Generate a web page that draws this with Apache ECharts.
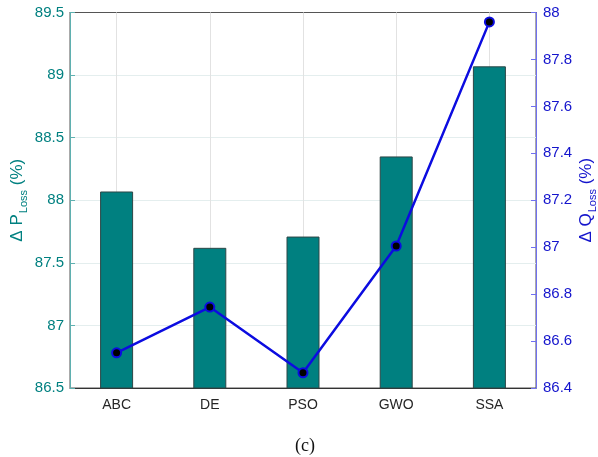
<!DOCTYPE html>
<html>
<head>
<meta charset="utf-8">
<script src="https://cdn.jsdelivr.net/npm/echarts@6/dist/echarts.min.js"></script>
<style>
  html, body { margin: 0; padding: 0; background: #fff; }
  #chart { width: 598px; height: 457px; }
</style>
</head>
<body>
<div id="chart"></div>
<script>
// Algorithms compared
const categories = ['ABC', 'DE', 'PSO', 'GWO', 'SSA'];
// Active power loss reduction (%), left axis, bars
const pLoss = [88.07, 87.62, 87.71, 88.35, 89.07];
// Reactive power loss reduction (%), right axis, line
const qLoss = [86.55, 86.745, 86.465, 87.005, 87.96];

const teal = '#008080';
const blue = '#0c0ce0';
const blueText = '#1414cc';
const sans = 'Liberation Sans, Arial, sans-serif';

const chart = echarts.init(document.getElementById('chart'), null, { renderer: 'canvas' });

chart.setOption({
  animation: false,
  backgroundColor: '#ffffff',
  grid: {
    left: 70, right: 62, top: 12.5, bottom: 69,
    outerBoundsMode: 'none',
    containLabel: false,
    show: true, borderColor: '#555555', borderWidth: 1, backgroundColor: 'transparent'
  },
  graphic: [{
    type: 'text',
    x: 305,
    y: 446,
    style: {
      text: '(c)', font: '18px "Liberation Serif", "Times New Roman", serif', fill: '#111',
      align: 'center', verticalAlign: 'middle'
    }
  }],
  xAxis: [{
    type: 'category',
    data: categories,
    boundaryGap: true,
    axisLine: { lineStyle: { color: '#333333', width: 1 } },
    axisTick: { show: true, alignWithLabel: true, inside: true, length: 5, lineStyle: { color: '#333' } },
    axisLabel: { color: '#262626', fontSize: 14, margin: 10, fontFamily: sans },
    splitLine: { show: false }
  }, {
    type: 'category',
    data: categories,
    position: 'top',
    boundaryGap: true,
    axisLine: { lineStyle: { color: '#555555', width: 1 } },
    axisTick: { show: true, alignWithLabel: true, inside: true, length: 5, lineStyle: { color: '#777' } },
    axisLabel: { show: false },
    splitLine: { show: false }
  }],
  yAxis: [{
    type: 'value',
    position: 'left',
    min: 86.5, max: 89.5, interval: 0.5,
    axisLine: { show: true, lineStyle: { color: '#5fb0b0', width: 1 } },
    axisTick: { show: true, inside: true, length: 5, lineStyle: { color: '#5fb0b0' } },
    axisLabel: { color: teal, fontSize: 15, margin: 6, fontFamily: sans },
    splitLine: { show: true, lineStyle: { color: '#e4eeee', width: 1 } },
    name: '{a|Δ P}{b|Loss}{a| (%)}',
    nameLocation: 'middle',
    nameMoveOverlap: false,
    nameGap: 41,
    nameTextStyle: {
      color: teal,
      rich: {
        a: { fontSize: 17, color: teal, fontFamily: sans },
        b: { fontSize: 11, color: teal, fontFamily: sans, padding: [12, 0, 0, 1] }
      }
    }
  }, {
    type: 'value',
    position: 'right',
    min: 86.4, max: 88, interval: 0.2,
    axisLine: { show: true, lineStyle: { color: '#7070f0', width: 1 } },
    axisTick: { show: true, inside: true, length: 5, lineStyle: { color: '#7070f0' } },
    axisLabel: { color: blueText, fontSize: 15, margin: 7, fontFamily: sans,
      formatter: v => String(Math.round(v * 10) / 10) },
    splitLine: { show: false },
    name: '{a|Δ Q}{b|Loss}{a| (%)}',
    nameLocation: 'middle',
    nameMoveOverlap: false,
    nameGap: 39,
    nameRotate: 90,
    nameTextStyle: {
      color: blueText,
      rich: {
        a: { fontSize: 17, color: blueText, fontFamily: sans },
        b: { fontSize: 11, color: blueText, fontFamily: sans, padding: [12, 0, 0, 1] }
      }
    }
  }],
  series: [{
    // vertical grid lines through each category, kept behind the bars
    type: 'line',
    data: categories.map(() => null),
    xAxisIndex: 0,
    yAxisIndex: 0,
    silent: true,
    symbol: 'none',
    z: 1,
    markLine: {
      z: 1,
      silent: true,
      symbol: 'none',
      label: { show: false },
      lineStyle: { color: '#e2e2e2', width: 1, type: 'solid' },
      data: categories.map(c => ({ xAxis: c }))
    }
  }, {
    type: 'bar',
    data: pLoss,
    xAxisIndex: 0,
    yAxisIndex: 0,
    barWidth: 33,
    itemStyle: { color: teal, borderColor: '#2d4646', borderWidth: 1 },
    z: 2
  }, {
    type: 'line',
    data: qLoss,
    xAxisIndex: 0,
    yAxisIndex: 1,
    symbol: 'circle',
    symbolSize: 9,
    lineStyle: { color: blue, width: 2.5 },
    itemStyle: { color: '#000000', borderColor: blue, borderWidth: 2 },
    z: 3
  }]
});
</script>
</body>
</html>
